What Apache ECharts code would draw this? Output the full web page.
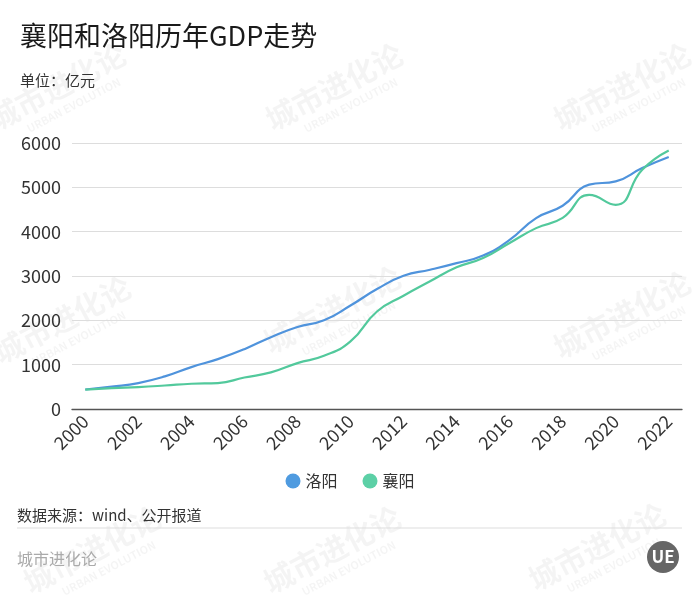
<!DOCTYPE html>
<html>
<head>
<meta charset="utf-8">
<script src="https://cdn.jsdelivr.net/npm/echarts@6/dist/echarts.min.js"></script>
<style>
html,body{margin:0;padding:0;background:#fff;}
#c{width:700px;height:595px;}
</style>
</head>
<body>
<div id="c"></div>
<script>
const years = ['2000','2001','2002','2003','2004','2005','2006','2007','2008','2009','2010','2011','2012','2013','2014','2015','2016','2017','2018','2019','2020','2021','2022'];
const luoyang = [440,505,585,735,945,1125,1350,1620,1850,2000,2335,2705,3005,3140,3290,3460,3815,4305,4585,5060,5135,5435,5685];
const xiangyang = [435,470,495,530,570,585,710,825,1035,1200,1525,2200,2555,2880,3195,3405,3745,4080,4310,4830,4605,5395,5830];
const yTicks = {min:0,max:6000,interval:1000};
const FONT = '"Noto Sans CJK SC", "Noto Sans", sans-serif';

const wmPos = [[60,92],[337,92],[625,92],[65,325],[335,315],[625,320],[95,555],[335,555],[600,552]];
const graphics = [];
wmPos.forEach(p=>{
  graphics.push({
    type:'group', x:p[0], y:p[1], rotation:Math.PI/6.5, z:-10, silent:true,
    children:[
      {type:'text', style:{text:'城市进化论', x:0, y:-6, fill:'rgba(0,0,0,0.045)', font:'bold 30px '+FONT, textAlign:'center', textVerticalAlign:'middle'}},
      {type:'text', style:{text:'URBAN EVOLUTION', x:6, y:18, fill:'rgba(0,0,0,0.045)', font:'bold 11px '+FONT, textAlign:'center', textVerticalAlign:'middle'}}
    ]
  });
});
graphics.push(
  {type:'text', left:20, top:22, style:{text:'襄阳和洛阳历年GDP走势', fill:'#1a1a1a', font:'normal 27px '+FONT}},
  {type:'text', left:20, top:73, style:{text:'单位：亿元', fill:'#333', font:'15px '+FONT}},
  {type:'text', left:17, top:508, style:{text:'数据来源：wind、公开报道', fill:'#333', font:'15px '+FONT}},
  {type:'line', shape:{x1:17,y1:528,x2:682,y2:528}, style:{stroke:'#ddd', lineWidth:1}},
  {type:'text', left:17, top:551, style:{text:'城市进化论', fill:'#aaa', font:'16px '+FONT}},
  {type:'circle', shape:{cx:663, cy:557, r:16}, style:{fill:'#666'}},
  {type:'text', x:663, y:557, style:{text:'UE', fill:'#fff', font:'bold 17px '+FONT, textAlign:'center', textVerticalAlign:'middle'}}
);

const chart = echarts.init(document.getElementById('c'), null, {renderer:'canvas'});
chart.setOption({
  backgroundColor:'#fff',
  animation:false,
  textStyle:{fontFamily:FONT},
  grid:{left:72, right:18, top:143, bottom:186, containLabel:false},
  legend:{
    bottom:101, left:'center', itemWidth:15, itemHeight:15, itemGap:25, icon:'circle',
    textStyle:{fontSize:16, color:'#333', fontFamily:FONT},
    data:['洛阳','襄阳']
  },
  xAxis:{
    type:'category', data:years, boundaryGap:true,
    axisLine:{lineStyle:{color:'#555', width:1.3}},
    axisTick:{alignWithLabel:true, interval:1, length:5, lineStyle:{color:'#555'}},
    axisLabel:{interval:1, rotate:45, fontSize:18, color:'#333', margin:9, fontFamily:FONT}
  },
  yAxis:{
    type:'value', min:yTicks.min, max:yTicks.max, interval:yTicks.interval,
    axisLine:{show:false}, axisTick:{show:false},
    axisLabel:{fontSize:18, color:'#333', margin:11, fontFamily:FONT, formatter:function(v){return String(v);}},
    splitLine:{lineStyle:{color:'#ddd', width:1}}
  },
  series:[
    {name:'洛阳', type:'line', smooth:true, data:luoyang, showSymbol:false, symbol:'circle',
     itemStyle:{color:'#4f9be0'}, lineStyle:{width:2.2, color:'#4f93dc'}},
    {name:'襄阳', type:'line', smooth:true, data:xiangyang, showSymbol:false, symbol:'circle',
     itemStyle:{color:'#5cd0a6'}, lineStyle:{width:2.2, color:'#52c99c'}}
  ],
  graphic:graphics
});
</script>
</body>
</html>
